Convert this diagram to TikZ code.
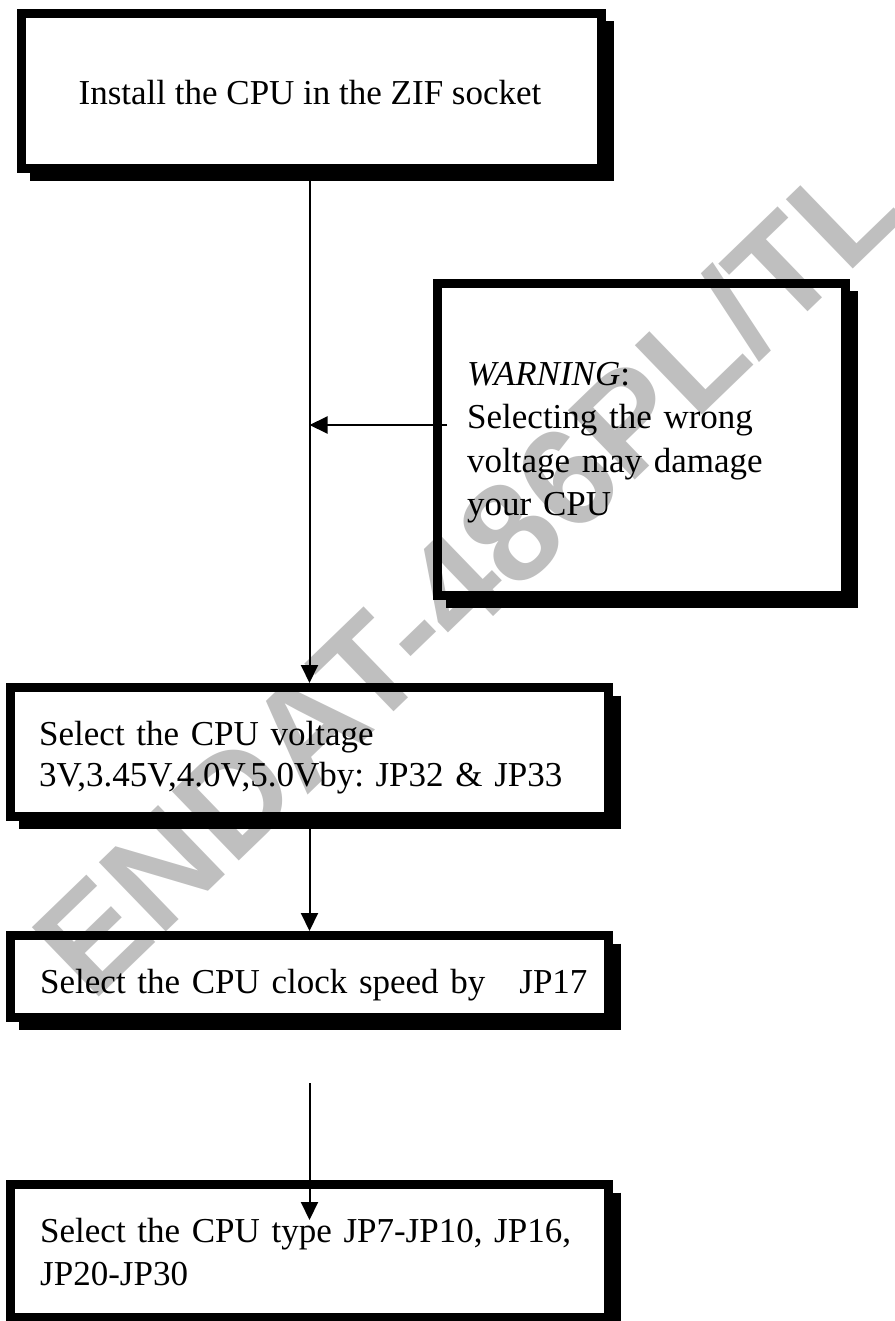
\documentclass[tikz,border=0pt]{standalone}
\usepackage{fontspec}
\setmainfont{Liberation Serif}
\newfontfamily\markfont{Liberation Sans}
\usepackage{tikz}
\usetikzlibrary{arrows.meta, positioning}
\frenchspacing

\tikzset{
  flowbox/.style={shape=rectangle, draw, line width=9pt, inner sep=0pt, outer sep=0pt},
  flowshadow/.style={line width=9pt},
  flowtext/.style={anchor=base west, align=left, text width=590pt, inner sep=0pt},
  flowarrow/.style={line width=2pt, -{Triangle[length=18pt, width=17pt]}},
}

\begin{document}
\begin{tikzpicture}[x=1pt, y=-1pt, font=\fontsize{35}{43.5}\selectfont]
  % Paths, nodes and wires:
  \useasboundingbox (0, 0) rectangle (894, 1321);
  \node[rotate=44, text=black!25, font=\markfont\bfseries\fontsize{140}{140}\selectfont] (mark) at (466, 574) {ENDAT-486PL/TL};
  \node[flowbox, minimum width=580pt, minimum height=155pt] (install) at (311.5, 91) {};
  \draw[flowshadow] ([shift={(8, 8)}]install.north east) |- ([shift={(8, 8)}]install.south west);
  \node[anchor=base, inner sep=0pt] (installtext) at (310, 105) {Install the CPU in the ZIF socket};
  \node[flowbox, minimum width=408pt, minimum height=312pt] (warn) at (641.5, 439.5) {};
  \draw[flowshadow] ([shift={(8, 8)}]warn.north east) |- ([shift={(8, 8)}]warn.south west);
  \node[flowtext, text width=380pt] (warntext) at (467, 385) {\textit{WARNING}:\\Selecting the wrong\\voltage may damage\\your CPU};
  \node[flowbox, minimum width=598pt, minimum height=129pt] (voltage) at (309.5, 752) {};
  \draw[flowshadow] ([shift={(8, 8)}]voltage.north east) |- ([shift={(8, 8)}]voltage.south west);
  \node[flowtext, font=\fontsize{35}{41.5}\selectfont] (voltagetext) at (39, 745) {Select the CPU voltage\\3V,3.45V,4.0V,5.0Vby: JP32 \& JP33};
  \node[flowbox, minimum width=598pt, minimum height=82pt] (clock) at (309.5, 976.5) {};
  \draw[flowshadow] ([shift={(8, 8)}]clock.north east) |- ([shift={(8, 8)}]clock.south west);
  \node[flowtext] (clocktext) at (40, 993) {Select the CPU clock speed by\hspace{34pt}JP17};
  \node[flowbox, minimum width=598pt, minimum height=133pt] (type) at (309.5, 1251) {};
  \draw[flowshadow] ([shift={(8, 8)}]type.north east) |- ([shift={(8, 8)}]type.south west);
  \node[flowtext] (typetext) at (40, 1242) {Select the CPU type JP7-JP10, JP16,\\JP20-JP30};
  \coordinate (warntail) at (447, 425);
  \coordinate (gapstart) at (309.5, 1083);
  \coordinate (typetip) at (309.5, 1220);
  \draw[flowarrow, shorten >=4.5pt] (install.south -| voltage.north) -- (voltage.north);
  \draw[flowarrow] (warntail) -- (voltage.north |- warntail);
  \draw[flowarrow, shorten >=4.5pt] (voltage.south) -- (clock.north);
  \draw[flowarrow] (gapstart) -- (typetip);
\end{tikzpicture}
\end{document}
